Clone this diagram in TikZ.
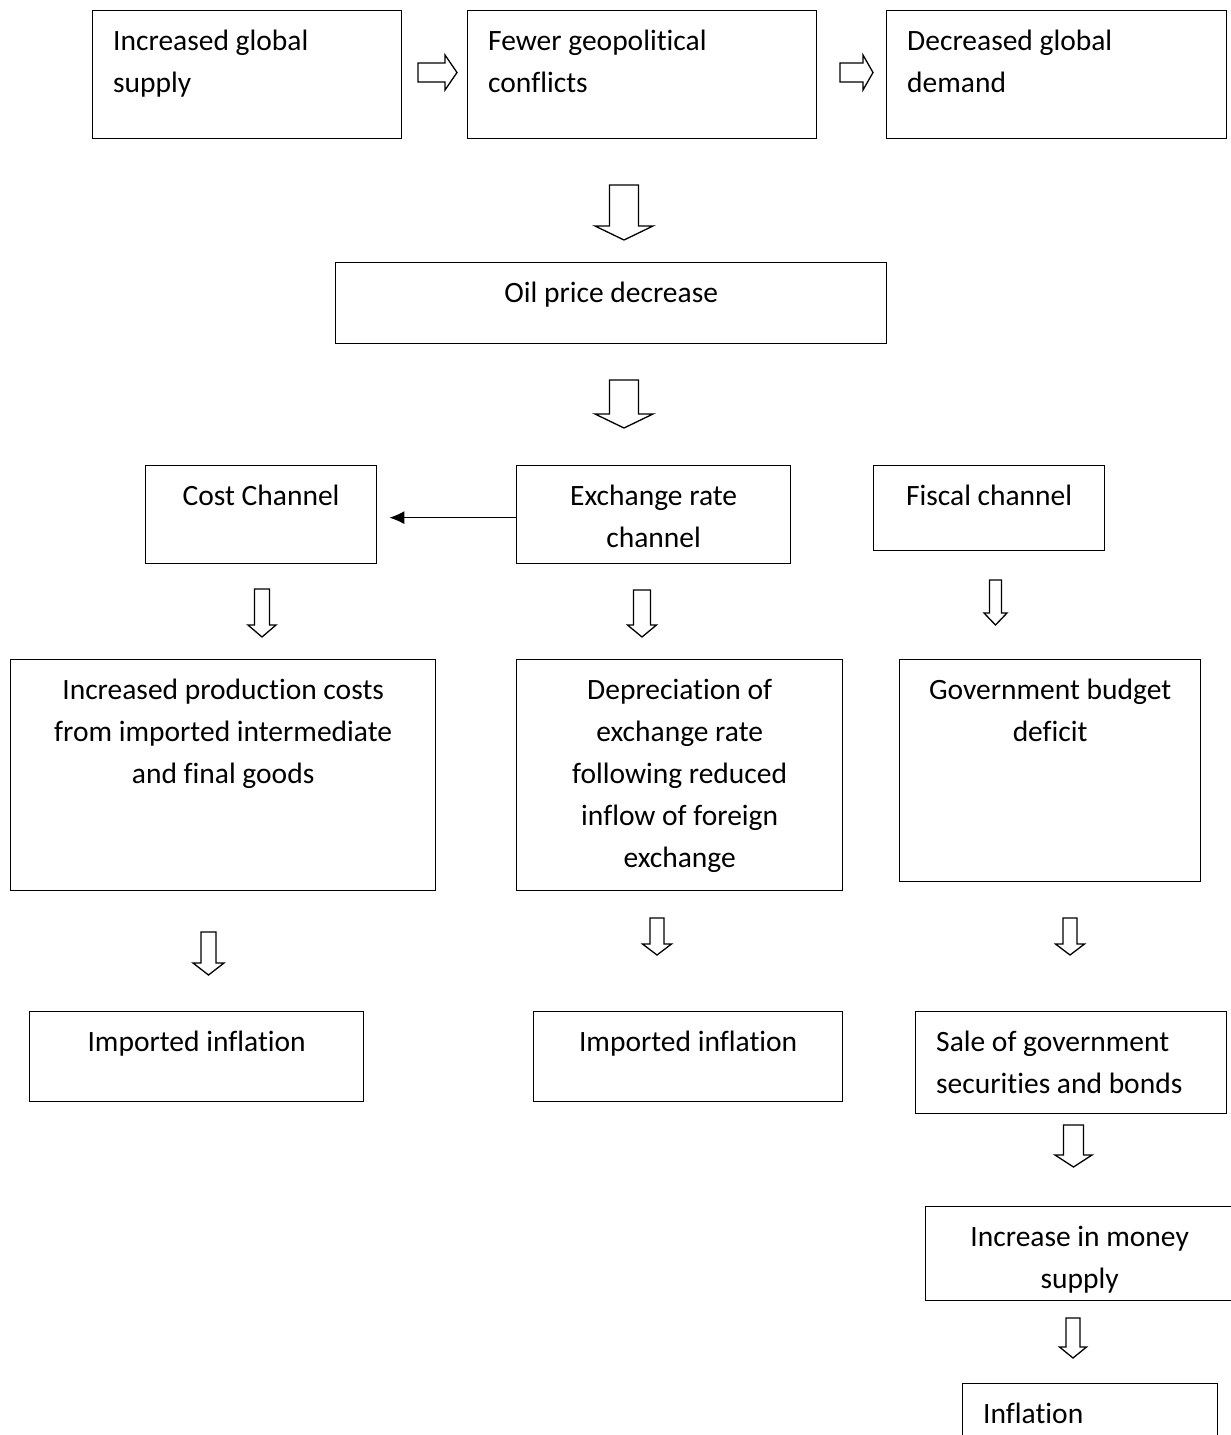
\documentclass[tikz,border=0pt]{standalone}
\usepackage{fontspec}
\setmainfont{Carlito}[Ligatures=NoCommon]
\usetikzlibrary{arrows.meta}

% outlined block arrows: centre/left, start, tip, shaft width, head width, head length
\newcommand{\downblock}[6]{%
  \draw[blockarrow] ({#1-#4/2},#2) -- ({#1+#4/2},#2) -- ({#1+#4/2},{#3-#6}) -- ({#1+#5/2},{#3-#6})
    -- (#1,#3) -- ({#1-#5/2},{#3-#6}) -- ({#1-#4/2},{#3-#6}) -- cycle;}
\newcommand{\rightblock}[6]{%
  \draw[blockarrow] (#1,{#2-#4/2}) -- (#1,{#2+#4/2}) -- ({#3-#6},{#2+#4/2}) -- ({#3-#6},{#2+#5/2})
    -- (#3,#2) -- ({#3-#6},{#2-#5/2}) -- ({#3-#6},{#2-#4/2}) -- cycle;}

\tikzset{
  box/.style={draw, rectangle, line width=1.3pt, anchor=north west, inner sep=0pt},
  ctext/.style={anchor=north, inner sep=0pt, yshift=-19.5pt, align=center, font=\fontsize{29.5}{42}\selectfont},
  ltext/.style={anchor=north west, inner sep=0pt, xshift=21pt, yshift=-19.5pt, align=left, font=\fontsize{29.5}{42}\selectfont},
  blockarrow/.style={draw, line width=1.3pt, fill=white, line join=miter},
}

\begin{document}
\begin{tikzpicture}[x=1pt, y=-1pt]
\useasboundingbox (0,0) rectangle (1231,1435);
\clip (0,0) rectangle (1231,1435);

% causes
\node[box, minimum width=309pt, minimum height=128pt, label={[ltext]north west:{Increased global\\supply}}] (supply) at (92,10) {};
\node[box, minimum width=349pt, minimum height=128pt, label={[ltext]north west:{Fewer geopolitical\\conflicts}}] (conflicts) at (467,10) {};
\node[box, minimum width=340pt, minimum height=128pt, label={[ltext]north west:{Decreased global\\demand}}] (demand) at (886,10) {};
\rightblock{418}{72.5}{457}{19}{35}{12}
\rightblock{840}{72.5}{873}{19}{35}{10}

\downblock{624}{185}{240}{29}{58}{14}
\node[box, minimum width=551pt, minimum height=81pt, label={[ctext]north:{Oil price decrease}}] (oil) at (335,262) {};
\downblock{624}{380}{428}{29}{58}{14}

% channels
\node[box, minimum width=231pt, minimum height=98pt, label={[ctext]north:{Cost Channel}}] (cost) at (145,465) {};
\node[box, minimum width=274pt, minimum height=98pt, label={[ctext]north:{Exchange rate\\channel}}] (exch) at (516,465) {};
\node[box, minimum width=231pt, minimum height=85pt, label={[ctext]north:{Fiscal channel}}] (fiscal) at (873,465) {};
\draw[line width=1.3pt, -{Latex[length=15pt,width=13pt]}] ([yshift=-3pt]exch.west) -- ([xshift=12pt,yshift=-3pt]cost.east);

\downblock{262}{589}{637}{15}{28}{12}
\downblock{642}{590}{637}{17}{29}{12}
\downblock{995.5}{580}{625}{12}{23}{12}

\node[box, minimum width=425pt, minimum height=231pt, label={[ctext]north:{Increased production costs\\from imported intermediate\\and final goods}}] (prodcost) at (10,659) {};
\node[box, minimum width=326pt, minimum height=231pt, label={[ctext]north:{Depreciation of\\exchange rate\\following reduced\\inflow of foreign\\exchange}}] (deprec) at (516,659) {};
\node[box, minimum width=301pt, minimum height=222pt, label={[ctext]north:{Government budget\\deficit}}] (deficit) at (899,659) {};

\downblock{208.5}{932}{975}{15}{31}{12}
\downblock{657}{918}{955}{14}{29}{11}
\downblock{1070}{918}{955}{14}{29}{11}

% outcomes
\node[box, minimum width=334pt, minimum height=90pt, label={[ctext]north:{Imported inflation}}] (impcost) at (29,1011) {};
\node[box, minimum width=309pt, minimum height=90pt, label={[ctext]north:{Imported inflation}}] (impexch) at (533,1011) {};
\node[box, minimum width=311pt, minimum height=102pt, label={[ltext]north west:{Sale of government\\securities and bonds}}] (sale) at (915,1011) {};
\downblock{1073.5}{1125}{1167}{20}{37}{12}
\node[box, minimum width=308pt, minimum height=94pt, label={[ctext]north:{Increase in money\\supply}}] (money) at (925,1206) {};
\downblock{1073}{1318}{1358}{14}{27}{11}
\node[box, minimum width=255pt, minimum height=80pt, label={[ltext]north west:{Inflation}}] (infl) at (962,1383) {};
\end{tikzpicture}
\end{document}
